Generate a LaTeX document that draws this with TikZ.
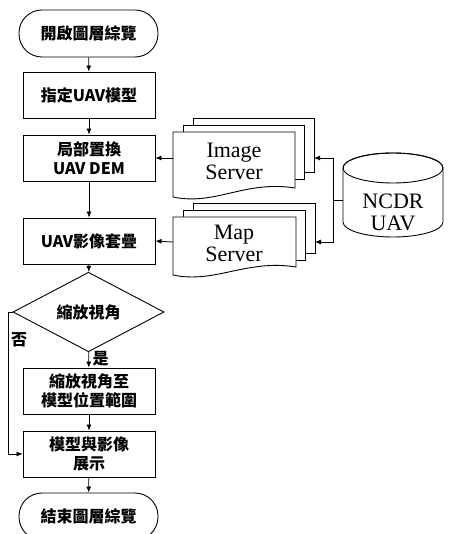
\documentclass[tikz,border=0pt]{standalone}
\usepackage{fontspec}
\setmainfont{Liberation Serif}
\newfontfamily\cjk{Noto Sans CJK TC}
\usepackage{tikz}
\usetikzlibrary{arrows.meta, shapes.geometric}

\tikzset{
    arr/.style={-{Latex[length=6pt,width=5pt]}, line width=0.8pt},
    cjkfont/.style={font=\cjk\fontsize{16}{18.5}\selectfont\bfseries},
    proc/.style={draw, line width=0.9pt, minimum width=132pt, minimum height=46pt,
        align=center, cjkfont},
    term/.style={proc, minimum width=139pt, minimum height=47pt, rounded corners=23pt},
    docpage/.style={draw, line width=0.9pt, fill=white},
    doclabel/.style={align=center, font=\fontsize{22}{22}\selectfont}
}

\begin{document}
\begin{tikzpicture}[x=1pt, y=-1pt]
        \useasboundingbox (0,0) rectangle (449,534);

        % Main flow
        \node[term] (start) at (88.5,33.5) {開啟圖層綜覽};
        \node[proc] (model) at (89,95) {指定UAV模型};
        \node[proc] (dem) at (89,158) {局部置換\\UAV DEM};
        \node[proc] (overlay) at (89,241) {UAV影像套疊};
        \node[draw, diamond, line width=0.9pt, minimum width=151pt, minimum height=60pt,
            inner sep=0pt, cjkfont] (zoom) at (88.5,312) {縮放視角};
        \node[proc] (fit) at (89,391) {縮放視角至\\模型位置範圍};
        \node[proc] (show) at (89,454) {模型與影像\\展示};
        \node[term] (end) at (88.5,516.5) {結束圖層綜覽};

        % Image Server (stacked pages)
        \draw[docpage] (193,118) rectangle (314,172);
        \draw[docpage] (183,125) rectangle (304,179);
        \draw[docpage] (173,132) -- (295,132) -- (295,188)
            .. controls (245,180) and (215,206) .. (173,197) -- cycle;
        \node[doclabel] (imgsrv) at (234,161) {Image\\Server};
        \coordinate (imgin) at (314,158);
        \coordinate (imgout) at (173,158);

        % Map Server (stacked pages)
        \draw[docpage] (193,203) rectangle (315,253);
        \draw[docpage] (183,210) rectangle (305,260);
        \draw[docpage] (173,217) -- (296,217) -- (296,267)
            .. controls (246,259) and (215,284) .. (173,275) -- cycle;
        \node[doclabel] (mapsrv) at (234,243) {Map\\Server};
        \coordinate (mapin) at (315,242);
        \coordinate (mapout) at (173,242);

        % NCDR UAV database
        \draw[docpage] (343,168) -- (343,222)
            arc[start angle=180, end angle=0, x radius=50, y radius=15]
            -- (443,168) arc[start angle=0, end angle=-180, x radius=50, y radius=15] -- cycle;
        \draw[line width=0.9pt] (393,168) ellipse[x radius=50, y radius=15];
        \node[doclabel] (ncdr) at (393,212) {NCDR\\UAV};
        \coordinate (ncdrside) at (343,200);
        \coordinate (split) at (333,200);

        % Arrows of the main flow
        \draw[arr] (start) -- (model);
        \draw[arr] (model) -- (dem);
        \draw[arr] (dem) -- (overlay);
        \draw[arr] (overlay) -- (zoom);
        \draw[arr] (zoom) -- node[right, pos=0.4, cjkfont] {是} (fit);
        \draw[arr] (fit) -- (show);
        \draw[arr] (show) -- (end);

        % No branch
        \draw[arr] (zoom.west) -- (8,312) |- (show.west);
        \node[cjkfont] (no) at (19,340) {否};

        % Data sources
        \draw[arr] (imgout) -- (dem.east);
        \draw[arr] (mapout) -- (overlay.east);
        \draw (ncdrside) -- (split);
        \draw[arr] (split) |- (imgin);
        \draw[arr] (split) |- (mapin);
    \end{tikzpicture}
\end{document}
